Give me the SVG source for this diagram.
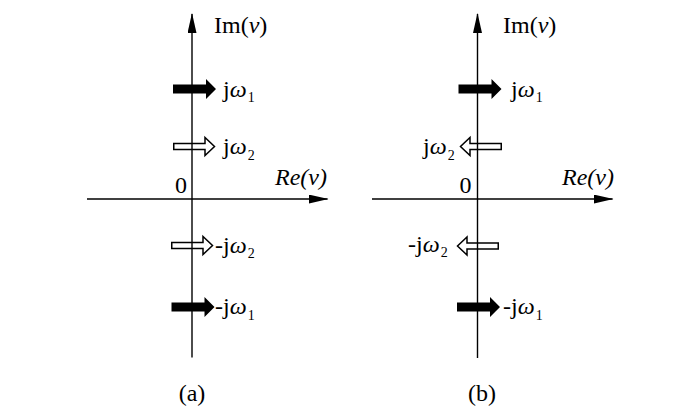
<svg xmlns="http://www.w3.org/2000/svg" width="700" height="410" viewBox="0 0 700 410">
<style>
text{font-family:"Liberation Serif","Times New Roman",serif;fill:#000}
.lbl{font-size:24px}
.sub{font-size:14px}
.it{font-style:italic}
.ax{stroke:#000;stroke-width:1.4;fill:none}
.solid{fill:#000;stroke:none}
.open{fill:#fff;stroke:#000;stroke-width:1.5;stroke-linejoin:miter}
</style>
<defs>
<polygon id="solidArrow" class="solid" points="0,-4.5 33,-4.5 33,-10 43,0 33,10 33,4.5 0,4.5"/>
<polygon id="openArrow" class="open" points="0.75,-3 32,-3 32,-9 41.5,0 32,9 32,3 0.75,3"/>
<marker id="head" markerUnits="userSpaceOnUse" markerWidth="20" markerHeight="9" viewBox="0 0 20 9" refX="19" refY="4.5" orient="auto">
<polygon points="0,0 20,4.5 0,9" fill="#000"/>
</marker>
</defs>

<g id="arrows">
<g id="a-jw1-arrow"><use href="#solidArrow" transform="translate(173,89)"/></g>
<g id="a-jw2-arrow"><use href="#openArrow" transform="translate(173,146.5)"/></g>
<g id="a-mjw2-arrow"><use href="#openArrow" transform="translate(171,245.5)"/></g>
<g id="a-mjw1-arrow"><use href="#solidArrow" transform="translate(171.5,307)"/></g>
<g id="b-jw1-arrow"><use href="#solidArrow" transform="translate(458.5,89)"/></g>
<g id="b-jw2-arrow"><use href="#openArrow" transform="translate(502,146.5) scale(-1,1)"/></g>
<g id="b-mjw2-arrow"><use href="#openArrow" transform="translate(499,246) scale(-1,1)"/></g>
<g id="b-mjw1-arrow"><use href="#solidArrow" transform="translate(457,307)"/></g>
</g>

<g id="axes">
<line class="ax" x1="192" y1="357.5" x2="192" y2="14" marker-end="url(#head)"/>
<line class="ax" x1="87" y1="199" x2="327.5" y2="199" marker-end="url(#head)"/>
<line class="ax" x1="477.5" y1="358" x2="477.5" y2="14" marker-end="url(#head)"/>
<line class="ax" x1="372" y1="199" x2="612.5" y2="199" marker-end="url(#head)"/>
</g>

<g id="panel-a-labels">
<text class="lbl" x="214" y="33">Im(<tspan class="it">v</tspan>)</text>
<text class="lbl" x="223" y="97">j<tspan class="it">ω</tspan><tspan class="sub" dx="1" dy="5">1</tspan></text>
<text class="lbl" x="223" y="154">j<tspan class="it">ω</tspan><tspan class="sub" dx="1" dy="6">2</tspan></text>
<text class="lbl" x="175" y="193">0</text>
<text class="lbl it" x="275" y="185">Re(v)</text>
<text class="lbl" x="215" y="253">-j<tspan class="it">ω</tspan><tspan class="sub" dx="1" dy="5">2</tspan></text>
<text class="lbl" x="215" y="314">-j<tspan class="it">ω</tspan><tspan class="sub" dx="1" dy="6">1</tspan></text>
<text class="lbl" x="192" y="401" text-anchor="middle">(a)</text>
</g>

<g id="panel-b-labels">
<text class="lbl" x="503" y="33">Im(<tspan class="it">v</tspan>)</text>
<text class="lbl" x="511" y="97">j<tspan class="it">ω</tspan><tspan class="sub" dx="1" dy="5">1</tspan></text>
<text class="lbl" x="423" y="154">j<tspan class="it">ω</tspan><tspan class="sub" dx="1" dy="6">2</tspan></text>
<text class="lbl" x="459.5" y="193">0</text>
<text class="lbl it" x="562" y="185">Re(v)</text>
<text class="lbl" x="408" y="252">-j<tspan class="it">ω</tspan><tspan class="sub" dx="1" dy="5">2</tspan></text>
<text class="lbl" x="503" y="314">-j<tspan class="it">ω</tspan><tspan class="sub" dx="1" dy="6">1</tspan></text>
<text class="lbl" x="482" y="401" text-anchor="middle">(b)</text>
</g>
</svg>
